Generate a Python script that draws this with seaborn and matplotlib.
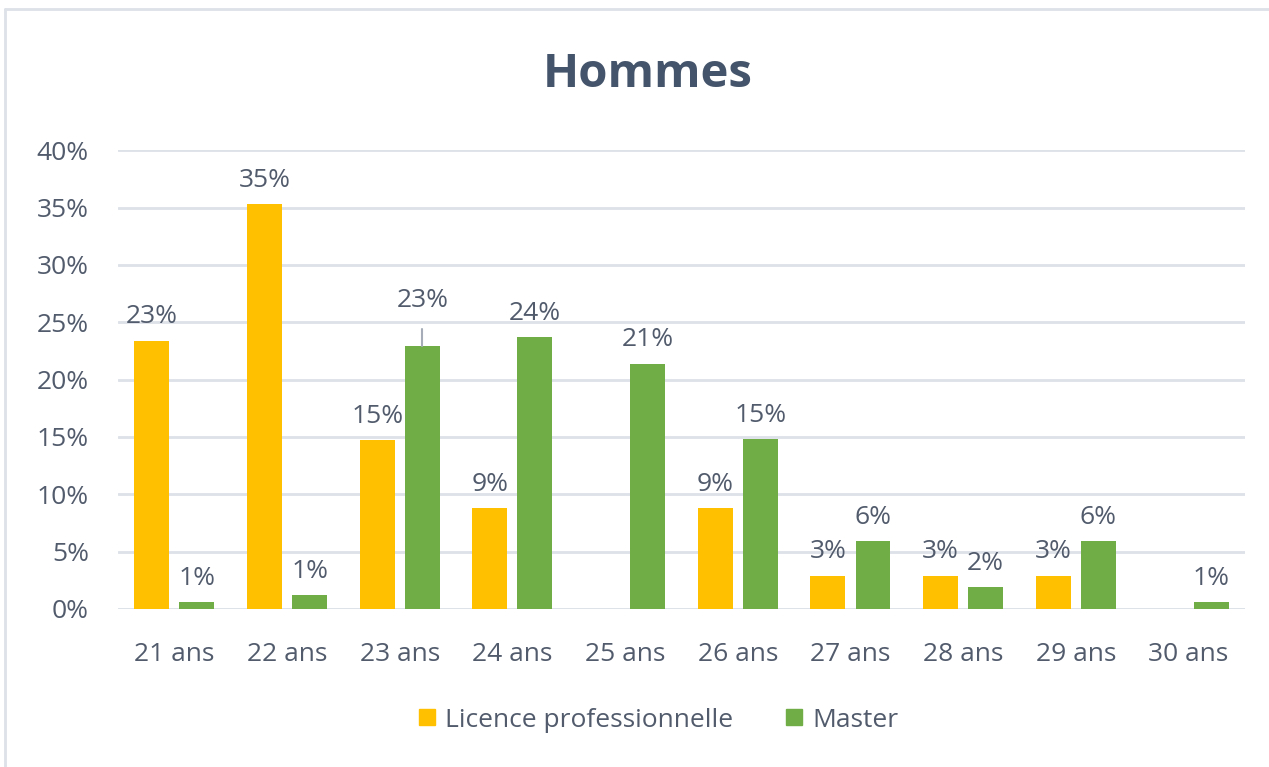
import numpy as np
import pandas as pd
import matplotlib.pyplot as plt
from matplotlib.lines import Line2D
import seaborn as sns

# --- Data ---
ages = ["21 ans", "22 ans", "23 ans", "24 ans", "25 ans",
        "26 ans", "27 ans", "28 ans", "29 ans", "30 ans"]
licence = [23.4, 35.3, 14.7, 8.8, 0.0, 8.8, 2.9, 2.9, 2.9, 0.0]
master = [0.6, 1.2, 22.9, 23.7, 21.4, 14.8, 5.9, 1.9, 5.9, 0.6]
series = ["Licence professionnelle", "Master"]
colors = ["#FFC000", "#70AD47"]

df = pd.DataFrame({
    "age": ages * 2,
    "value": licence + master,
    "serie": [series[0]] * len(ages) + [series[1]] * len(ages),
})

TXT = "#515B6C"
FS = 19
sns.set_theme(style="white")
plt.rcParams["font.family"] = ["Open Sans", "DejaVu Sans"]

fig = plt.figure(figsize=(12.69, 7.67), dpi=100)
ax = fig.add_axes([0.093, 0.206, 0.888, 0.598])

sns.barplot(data=df, x="age", y="value", hue="serie", palette=colors,
            order=ages, hue_order=series, width=0.8, legend=False,
            saturation=1, ax=ax)

# narrow the bars a bit so there is a gap within each pair
for p in ax.patches:
    c = p.get_x() + p.get_width() / 2
    p.set_width(0.31)
    p.set_x(c - 0.155)
    p.set_edgecolor("none")

# data labels
for p in ax.patches:
    h = p.get_height()
    if h <= 0:
        continue
    cx = p.get_x() + p.get_width() / 2
    if abs(h - 22.9) < 0.01:
        # label pushed up with a leader line
        ax.plot([cx, cx], [h, h + 1.5], color="#A6ACB8", lw=1.5)
        ax.text(cx, h + 4.0, f"{round(h):.0f}%", ha="center", va="center",
                fontsize=FS, color=TXT)
        continue
    ax.text(cx, h + 2.1, f"{round(h):.0f}%", ha="center", va="center",
            fontsize=FS, color=TXT)

ax.set_ylim(0, 40)
ax.set_xlim(-0.5, len(ages) - 0.5)
ax.set_yticks(np.arange(0, 41, 5))
ax.set_yticklabels([f"{v}%" for v in range(0, 41, 5)])
ax.yaxis.grid(True, color="#DDE1E8", lw=2)
ax.set_axisbelow(True)
for s in ax.spines.values():
    s.set_visible(False)
ax.axhline(0, color="#DDE1E8", lw=2, zorder=0.5)
ax.tick_params(axis="y", labelsize=FS, labelcolor=TXT, pad=21, length=0)
ax.tick_params(axis="x", labelsize=FS, labelcolor=TXT, pad=24, length=0)
ax.set_xlabel("")
ax.set_ylabel("")

fig.text(0.51, 0.903, "Hommes", ha="center", va="center", fontsize=34,
         fontweight="bold", color="#44546A")

handles = [Line2D([], [], marker="s", ls="none", markersize=12,
                  markerfacecolor=c, markeredgecolor=c) for c in colors]
fig.legend(handles, series, loc="center", bbox_to_anchor=(0.515, 0.061),
           ncol=2, frameon=False, fontsize=FS, labelcolor=TXT,
           handletextpad=0.0, columnspacing=1.6, handlelength=1.4)

# light frame of the chart area
fig.add_artist(Line2D([0.004, 0.004], [0.0, 0.988], color="#DDE1E8", lw=2))
fig.add_artist(Line2D([0.004, 1.0], [0.988, 0.988], color="#DDE1E8", lw=2))

fig.savefig("out.png", dpi=100, facecolor="white")
